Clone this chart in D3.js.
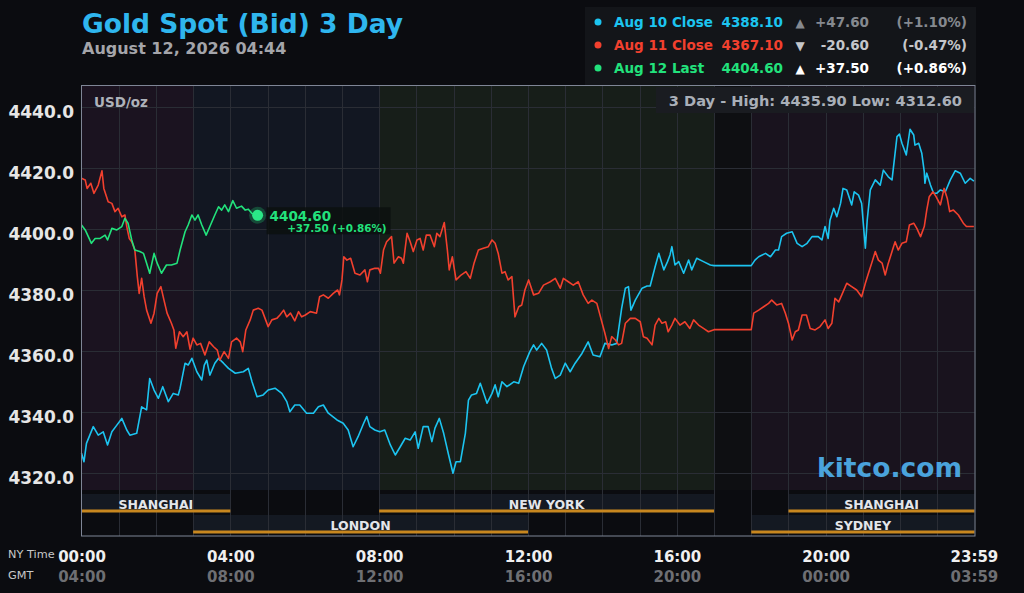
<!DOCTYPE html>
<html>
<head>
<meta charset="utf-8">
<script src="https://cdn.jsdelivr.net/npm/d3@7/dist/d3.min.js"></script>
<style>
  body { margin: 0; background: #0b0c10; }
  svg { display: block; font-family: "DejaVu Sans", sans-serif; font-weight: bold; }
</style>
</head>
<body>
<svg id="chart" width="1024" height="593"></svg>
<script>
// minutes after midnight (NY time), bid price
var aug10 = [[0,4326.6],[4,4323.8],[8,4329.8],[19,4335.3],[27,4332.5],[35,4333.6],[42,4329.3],[49,4333.6],[57,4335.8],[65,4338],[73,4334.2],[78,4332.5],[89,4333.1],[97,4341.8],[105,4340.8],[110,4351.1],[117,4347.3],[124,4344.6],[131,4348.4],[140,4343.5],[148,4346.2],[156,4345.7],[159,4347.9],[167,4356.1],[172,4355.5],[178,4357.7],[186,4353.3],[194,4350.6],[198,4355.5],[202,4357.1],[207,4352.2],[215,4356.1],[221,4357.7],[229,4356.1],[237,4354.4],[248,4352.8],[261,4353.3],[269,4354.4],[275,4350],[283,4345.1],[293,4345.7],[301,4347.3],[312,4347.9],[323,4346.2],[331,4343.5],[336,4340.2],[344,4342.4],[352,4342.4],[363,4339.7],[374,4339.7],[382,4341.8],[390,4342.4],[398,4339.7],[412,4337.5],[422,4336.4],[430,4334.2],[438,4328.7],[446,4332],[455,4336.4],[460,4338.6],[465,4335.3],[473,4334.2],[481,4333.6],[489,4334.2],[495,4330.9],[498,4329.3],[506,4326],[514,4328.7],[522,4331.5],[530,4330.9],[538,4333.6],[543,4328.2],[551,4335.3],[559,4335.3],[565,4330.4],[570,4334.8],[577,4338],[584,4333.1],[592,4326],[599,4320],[604,4323.8],[611,4323.8],[619,4333.1],[624,4344],[629,4345.7],[637,4346.2],[643,4349.5],[654,4343],[662,4346.2],[667,4349],[672,4345.1],[678,4350],[686,4348.4],[697,4350],[705,4349.5],[713,4355],[723,4359.9],[729,4362.1],[734,4360.4],[742,4362.6],[750,4360.4],[758,4354.4],[764,4351.1],[772,4352.2],[780,4356.1],[788,4353.3],[796,4356.1],[807,4359.3],[817,4363.1],[825,4358.8],[836,4358.2],[844,4362.6],[855,4362.1],[863,4362.6],[871,4374.1],[877,4380.7],[882,4381.2],[886,4373.5],[893,4376.8],[904,4380.7],[912,4381.4],[917,4381.4],[925,4387.7],[931,4392.1],[939,4386.7],[945,4389.4],[949,4391.6],[952,4394.3],[957,4388.3],[963,4389.4],[971,4385.6],[979,4389.9],[984,4386.7],[992,4390.5],[1003,4389.4],[1014,4388.3],[1020,4388.1],[1080,4388.1],[1086,4389.9],[1092,4391],[1103,4392.1],[1111,4391],[1119,4393.2],[1124,4393.2],[1129,4397.6],[1137,4398.7],[1146,4399.2],[1154,4395.4],[1162,4394.3],[1170,4395.4],[1178,4397.6],[1188,4397.6],[1194,4396.5],[1199,4400.9],[1204,4397],[1207,4403],[1213,4406.9],[1218,4404.1],[1224,4408.5],[1228,4413.4],[1234,4412.9],[1242,4408],[1246,4412.3],[1253,4411.2],[1258,4408.5],[1264,4393.8],[1267,4403],[1272,4412.9],[1280,4416.2],[1288,4414.5],[1293,4419.4],[1301,4417.2],[1307,4416.2],[1315,4430.4],[1319,4431.2],[1323,4428.2],[1330,4424.4],[1336,4432.8],[1342,4430.9],[1344,4427.6],[1350,4428.2],[1355,4424.9],[1359,4418.9],[1360,4415.1],[1363,4418.4],[1369,4414.5],[1374,4411.8],[1379,4411.8],[1385,4412.9],[1393,4412.3],[1401,4416.2],[1409,4419.2],[1417,4418.4],[1425,4415.1],[1433,4416.7],[1439,4415.8]];

var aug11 = [[0,4416.7],[6,4416.2],[9,4413.4],[15,4415.1],[20,4411.8],[27,4414.5],[33,4419.2],[36,4413.4],[43,4409],[49,4408.5],[54,4405.8],[59,4406.9],[65,4404.1],[70,4404.7],[73,4400.9],[77,4397],[81,4395.9],[86,4393.2],[90,4384.5],[93,4379],[97,4383.9],[101,4377.9],[105,4373.5],[112,4369.2],[117,4372.5],[122,4379],[128,4381.2],[133,4376.8],[138,4372.5],[145,4369.2],[149,4367],[152,4361],[158,4366.4],[164,4364.8],[170,4366.4],[175,4360.7],[180,4364.3],[186,4362.1],[192,4362.6],[199,4358.8],[206,4363.1],[213,4361.5],[219,4360.4],[223,4357.1],[230,4359.9],[237,4357.7],[242,4363.1],[250,4364.3],[256,4363.1],[260,4359.9],[265,4367],[272,4370.3],[277,4373.5],[285,4374.1],[291,4373.5],[296,4370.8],[301,4368.1],[307,4370.3],[315,4370.8],[320,4371.9],[326,4373.5],[331,4371.3],[337,4372.5],[344,4370],[350,4373],[355,4371.3],[361,4371.9],[369,4373],[379,4372.5],[384,4377.9],[390,4378.5],[398,4377.4],[406,4379],[413,4380.1],[416,4378.5],[420,4383.4],[423,4391],[428,4389.9],[434,4390.5],[441,4385.6],[449,4385],[457,4386.7],[461,4382.8],[465,4386.7],[473,4387.2],[479,4387.2],[482,4385.6],[487,4393.2],[492,4395.9],[500,4397.6],[504,4388.9],[511,4391],[516,4390.5],[519,4388.9],[525,4398.7],[530,4395.9],[535,4392.7],[541,4396.5],[546,4397],[551,4393.2],[556,4398.1],[562,4398.1],[569,4394.3],[573,4398.7],[578,4397.6],[585,4402.2],[590,4393.2],[593,4386.7],[598,4391],[604,4383.4],[612,4385],[620,4386.1],[627,4383.9],[633,4388.9],[640,4393.2],[648,4393.8],[656,4394.3],[662,4396.5],[667,4395.4],[672,4392.1],[678,4385.6],[683,4386.1],[688,4383.4],[694,4384.5],[699,4371.3],[705,4374.6],[710,4375.2],[715,4380.1],[721,4383.4],[729,4378.5],[737,4379],[745,4381.7],[756,4382.8],[764,4383.9],[772,4380.7],[777,4383.9],[785,4382.8],[793,4381.7],[801,4382.8],[809,4378.5],[817,4375.7],[823,4376.8],[831,4375.7],[839,4369.7],[844,4365.9],[850,4360.9],[855,4364.8],[861,4363.7],[866,4362.1],[871,4362.6],[877,4369.2],[885,4370.8],[893,4370.8],[901,4369.7],[906,4364.8],[912,4364.3],[920,4362.1],[925,4368.6],[931,4370.8],[936,4369.2],[942,4369.7],[946,4366.4],[952,4368.6],[957,4370.8],[965,4368.6],[973,4369.7],[981,4367.5],[987,4370.3],[995,4368.6],[1003,4367.5],[1011,4366.4],[1020,4367.1],[1080,4367.1],[1084,4372.5],[1092,4373.5],[1100,4374.6],[1108,4375.7],[1113,4376.8],[1121,4375.2],[1129,4375.7],[1135,4372.5],[1140,4369.2],[1146,4363.7],[1151,4366.4],[1156,4367],[1162,4371.9],[1169,4371.9],[1175,4367.5],[1183,4367],[1191,4368.1],[1199,4370.3],[1204,4367.5],[1210,4369.2],[1215,4377.4],[1221,4376.2],[1226,4378.5],[1234,4382.3],[1242,4381.2],[1250,4380.1],[1258,4377.9],[1264,4382.3],[1269,4385.6],[1275,4389.4],[1280,4392.7],[1285,4389.9],[1291,4388.9],[1296,4385],[1301,4388.9],[1307,4392.7],[1312,4395.9],[1317,4393.2],[1323,4395.4],[1330,4395.9],[1335,4401.4],[1342,4402],[1347,4400.3],[1353,4397.6],[1359,4400.9],[1363,4406.3],[1367,4410.7],[1373,4412.3],[1378,4410.7],[1385,4408],[1391,4413.4],[1396,4410.2],[1400,4405.8],[1406,4406.3],[1414,4404.7],[1422,4402],[1427,4400.9],[1435,4400.9],[1439,4400.9]];

var aug12 = [[0,4401.4],[6,4399.8],[11,4397.6],[16,4395.4],[22,4397],[30,4397],[38,4398.1],[42,4396.5],[49,4400.3],[57,4399.8],[65,4400.9],[70,4403.6],[75,4402],[81,4396.5],[86,4393.2],[94,4392.7],[100,4392.1],[105,4388.9],[110,4385.6],[117,4392.1],[122,4388.9],[129,4385.6],[137,4388.3],[145,4388.3],[154,4388.9],[159,4393.2],[167,4399.2],[172,4401.4],[178,4404.7],[183,4403],[188,4404.7],[194,4401.4],[201,4398.1],[207,4400.9],[215,4404.7],[221,4407.4],[226,4406.3],[231,4408],[237,4405.8],[244,4409.4],[250,4406.9],[258,4407.6],[264,4406.3],[269,4406.6],[275,4405.2],[284,4404.6]];

var yTicks = [4320, 4340, 4360, 4380, 4400, 4420, 4440];
var xTicks = [0, 240, 480, 720, 960, 1200, 1439];

// background shading of the trading hours, [start, end, colour]
var shading = [[0,180,"#1b1320"],[180,480,"#121722"],[480,1020,"#171e19"],[1020,1080,"#0e0f12"],[1080,1440,"#19131e"]];
// exchange sessions, [name, start, end, row]
var sessions = [["SHANGHAI",0,240,0],["LONDON",180,720,1],["NEW YORK",480,1020,0],["SHANGHAI",1140,1440,0],["SYDNEY",1080,1440,1]];

var legendRows = [
  {label: "Aug 10 Close", value: "4388.10", arrow: "\u25B2", change: "+47.60", pct: "(+1.10%)", color: "#1cc4f0", muted: "#85898f"},
  {label: "Aug 11 Close", value: "4367.10", arrow: "\u25BC", change: "-20.60", pct: "(-0.47%)", color: "#f2402e", muted: "#c4c6ca"},
  {label: "Aug 12 Last",  value: "4404.60", arrow: "\u25B2", change: "+37.50", pct: "(+0.86%)", color: "#22e27c", muted: "#ffffff"}
];

// note: "top" is taken by window.top, so the plot edges get their own names
var plotLeft = 81.5, plotRight = 974.5, plotTop = 85.5, priceBottom = 490, plotBottom = 536;

var svg = d3.select("#chart");

var x = d3.scaleLinear().domain([0, 1440]).range([plotLeft, plotRight]);
var y = d3.scaleLinear().domain([4320, 4440]).range([473.3, 107.3]);

function hhmm(m) {
  var f = d3.format("02");
  return f(Math.floor(m / 60) % 24) + ":" + f(m % 60);
}

// ---------- title ----------
svg.append("text").attr("x", 82).attr("y", 33)
  .attr("fill", "#2fb6ee").style("font-size", "26.5px").text("Gold Spot (Bid) 3 Day");
svg.append("text").attr("x", 82).attr("y", 54)
  .attr("fill", "#a4a5aa").style("font-size", "16px").text("August 12, 2026 04:44");

// ---------- legend ----------
svg.append("rect").attr("x", 585).attr("y", 7).attr("width", 391).attr("height", 78).attr("fill", "#131519");
var rows = svg.append("g").selectAll("g").data(legendRows).enter().append("g")
  .attr("transform", function(d, i) { return "translate(0," + (27 + i * 23) + ")"; })
  .style("font-size", "13.5px");
rows.append("circle").attr("cx", 598).attr("cy", -5).attr("r", 3.5).attr("fill", function(d) { return d.color; });
rows.append("text").attr("x", 614).attr("fill", function(d) { return d.color; }).text(function(d) { return d.label; });
rows.append("text").attr("x", 783).attr("text-anchor", "end").attr("fill", function(d) { return d.color; }).text(function(d) { return d.value; });
rows.append("text").attr("x", 800).attr("text-anchor", "middle").attr("fill", function(d) { return d.muted; }).style("font-size", "12px").text(function(d) { return d.arrow; });
rows.append("text").attr("x", 869).attr("text-anchor", "end").attr("fill", function(d) { return d.muted; }).text(function(d) { return d.change; });
rows.append("text").attr("x", 967).attr("text-anchor", "end").attr("fill", function(d) { return d.muted; }).text(function(d) { return d.pct; });

// ---------- plot backgrounds ----------
svg.append("g").selectAll("rect").data(shading).enter().append("rect")
  .attr("x", function(d) { return x(d[0]); })
  .attr("width", function(d) { return x(d[1]) - x(d[0]); })
  .attr("y", plotTop).attr("height", priceBottom - plotTop)
  .attr("fill", function(d) { return d[2]; });

// session bars
var rowY = [494, 515];
svg.append("g").selectAll("rect").data(sessions).enter().append("rect")
  .attr("x", function(d) { return x(d[1]); })
  .attr("width", function(d) { return x(d[2]) - x(d[1]); })
  .attr("y", function(d) { return rowY[d[3]]; }).attr("height", 18)
  .attr("fill", "#141922");

// grid
var grid = svg.append("g").attr("stroke", "#2a2d35").attr("stroke-width", 1);
grid.selectAll("line.v").data(d3.range(60, 1440, 60)).enter().append("line")
  .attr("class", "v")
  .attr("x1", function(d) { return Math.round(x(d)) + 0.5; })
  .attr("x2", function(d) { return Math.round(x(d)) + 0.5; })
  .attr("y1", plotTop).attr("y2", plotBottom);
grid.selectAll("line.h").data(yTicks).enter().append("line")
  .attr("class", "h")
  .attr("x1", plotLeft).attr("x2", plotRight)
  .attr("y1", function(d) { return Math.round(y(d)) + 0.5; })
  .attr("y2", function(d) { return Math.round(y(d)) + 0.5; });

// session orange rules and names
svg.append("g").selectAll("rect").data(sessions).enter().append("rect")
  .attr("x", function(d) { return x(d[1]); })
  .attr("width", function(d) { return x(d[2]) - x(d[1]); })
  .attr("y", function(d) { return rowY[d[3]] + 15.5; }).attr("height", 3)
  .attr("fill", "#c8871f");
svg.append("g").selectAll("text").data(sessions).enter().append("text")
  .attr("x", function(d) { return (x(d[1]) + x(d[2])) / 2; })
  .attr("y", function(d) { return rowY[d[3]] + 15.3; })
  .attr("text-anchor", "middle").attr("fill", "#e4e6ea").style("font-size", "12.5px")
  .text(function(d) { return d[0]; });

// ---------- labels inside plot ----------
svg.append("text").attr("x", 94).attr("y", 107).attr("fill", "#aeb2ba").style("font-size", "13.5px").text("USD/oz");
svg.append("rect").attr("x", 656).attr("y", 87).attr("width", 318).attr("height", 26).attr("fill", "#1a1c21");
svg.append("text").attr("x", 962).attr("y", 106).attr("text-anchor", "end").attr("fill", "#a9afb8")
  .style("font-size", "14.6px").text("3 Day - High: 4435.90  Low: 4312.60");
svg.append("text").attr("x", 962).attr("y", 477).attr("text-anchor", "end").attr("fill", "#4aa3dc")
  .style("font-size", "26.5px").text("kitco.com");

// ---------- axes ----------
var yAxis = svg.append("g").attr("transform", "translate(74,0)")
  .call(d3.axisLeft(y).tickValues(yTicks).tickSize(0).tickPadding(0).tickFormat(d3.format(".1f")));
yAxis.select(".domain").remove();
yAxis.selectAll("text").attr("dy", "0.6em").attr("fill", "#e6e6e6")
  .style("font-size", "17px").style("font-family", "'DejaVu Sans', sans-serif").style("font-weight", "bold");

var nyAxis = svg.append("g").attr("transform", "translate(0,562)")
  .call(d3.axisBottom(x).tickValues(xTicks).tickSize(0).tickPadding(0).tickFormat(hhmm));
nyAxis.select(".domain").remove();
nyAxis.selectAll("text").attr("dy", "0").attr("fill", "#f0f0f0")
  .style("font-size", "15px").style("font-family", "'DejaVu Sans', sans-serif").style("font-weight", "bold");

var gmtAxis = svg.append("g").attr("transform", "translate(0,582)")
  .call(d3.axisBottom(x).tickValues(xTicks).tickSize(0).tickPadding(0).tickFormat(function(m) { return hhmm(m + 240); }));
gmtAxis.select(".domain").remove();
gmtAxis.selectAll("text").attr("dy", "0").attr("fill", "#6e6f73")
  .style("font-size", "15px").style("font-family", "'DejaVu Sans', sans-serif").style("font-weight", "bold");

svg.append("text").attr("x", 8).attr("y", 558).attr("fill", "#c8c8c8").style("font-weight", "normal").style("font-size", "11.3px").text("NY Time");
svg.append("text").attr("x", 8).attr("y", 579).attr("fill", "#c8c8c8").style("font-weight", "normal").style("font-size", "11.3px").text("GMT");

// ---------- series ----------
var line = d3.line().x(function(d) { return x(d[0]); }).y(function(d) { return y(d[1]); });
[[aug10, "#1cc4f0"], [aug11, "#f2402e"], [aug12, "#22e27c"]].forEach(function(s) {
  svg.append("path").datum(s[0]).attr("d", line)
    .attr("fill", "none").attr("stroke", s[1]).attr("stroke-width", 1.6).attr("stroke-linejoin", "round");
});

// last price marker
var last = aug12[aug12.length - 1];
var lx = x(last[0]), ly = y(last[1]);
svg.append("rect").attr("x", lx + 9).attr("y", ly - 8).attr("width", 124).attr("height", 27)
  .attr("fill", "#0c100f").attr("opacity", 0.85);
svg.append("circle").attr("cx", lx).attr("cy", ly).attr("r", 8.5).attr("fill", "#22e27c").attr("opacity", 0.25);
svg.append("circle").attr("cx", lx).attr("cy", ly).attr("r", 5.5).attr("fill", "#2be887");
svg.append("text").attr("x", lx + 12).attr("y", ly + 5.5).attr("fill", "#22e27c")
  .style("font-size", "13.5px").text(d3.format(".2f")(last[1]));
svg.append("text").attr("x", lx + 129).attr("y", ly + 17).attr("text-anchor", "end").attr("fill", "#22e27c")
  .style("font-size", "10.4px").text("+37.50 (+0.86%)");

// frame
svg.append("rect").attr("x", plotLeft).attr("y", plotTop).attr("width", plotRight - plotLeft + 0.5).attr("height", plotBottom - plotTop)
  .attr("fill", "none").attr("stroke", "#7f8696").attr("stroke-width", 1);
</script>
</body>
</html>
